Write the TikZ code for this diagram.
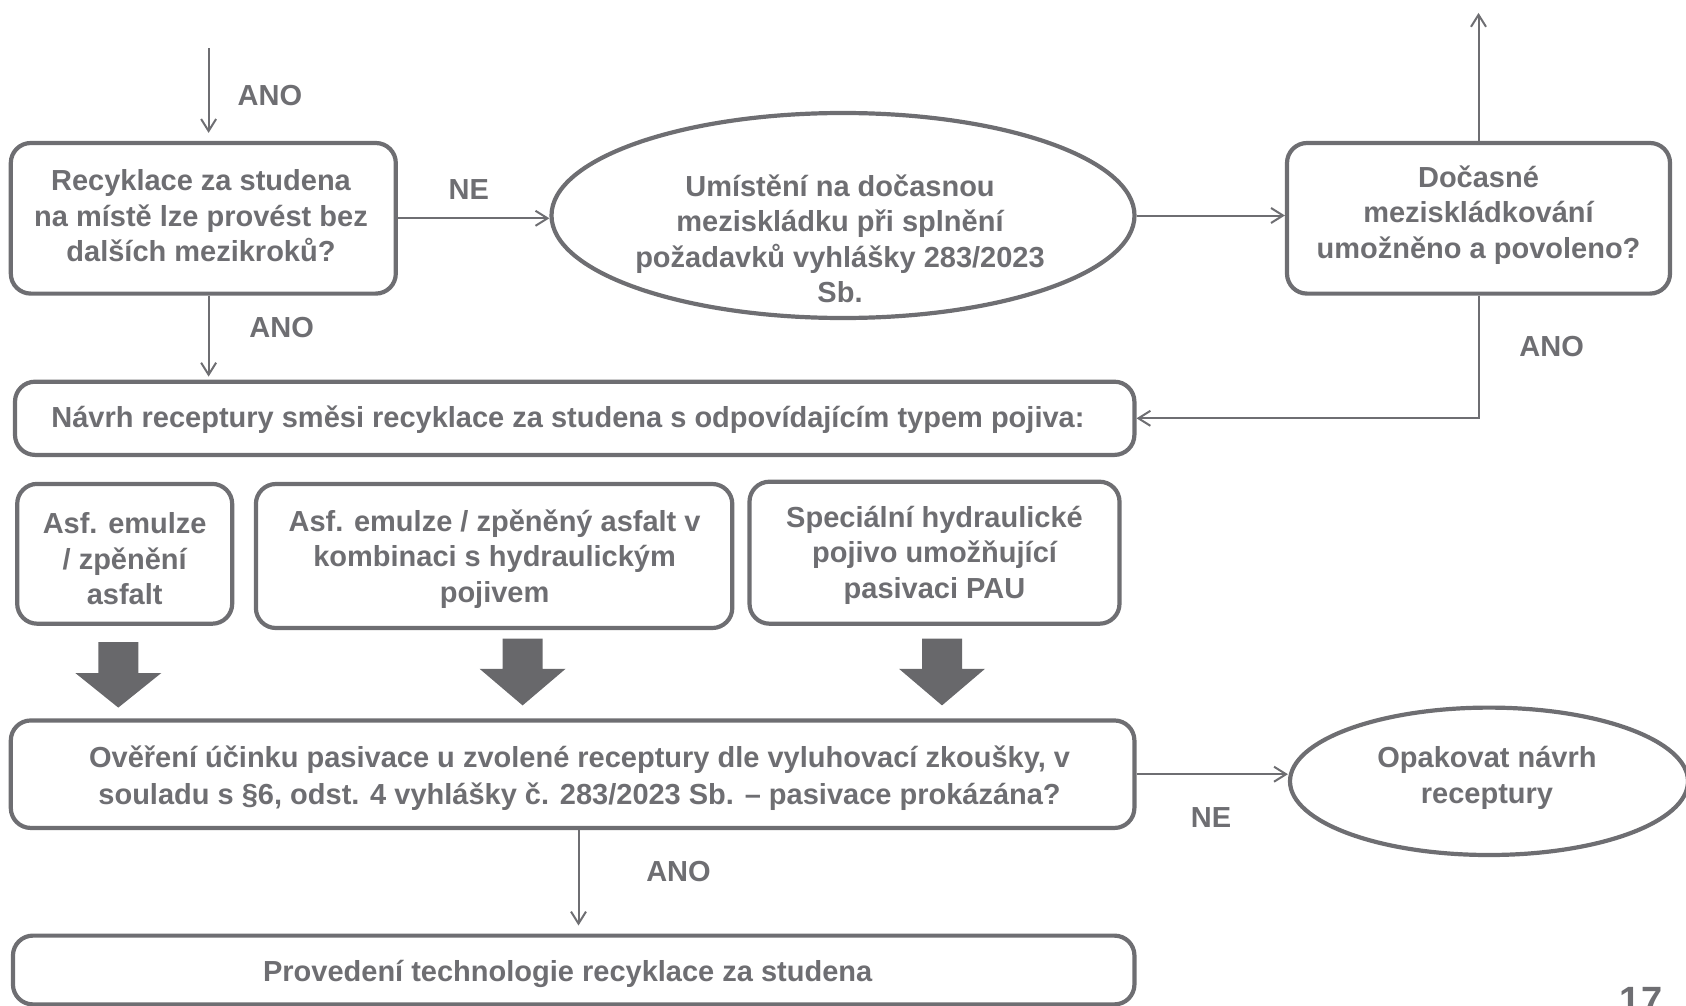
\documentclass[tikz,border=0pt]{standalone}
\usepackage{fontspec}
\setmainfont{Liberation Sans}
\usetikzlibrary{arrows.meta,shapes.geometric}
\definecolor{gr}{RGB}{110,110,114}
\definecolor{ga}{RGB}{104,104,107}
\newcommand{\mf}{\fontsize{14.5pt}{17.75pt}\selectfont\bfseries}
\begin{document}
\begin{tikzpicture}[x=0.5pt,y=-0.5pt,
 box/.style={draw=gr,line width=2.1pt,rounded corners=10pt,inner sep=0pt},
 oval/.style={draw=gr,line width=2.1pt,ellipse,inner sep=0pt},
 txt/.style={text=gr,font=\mf,align=center,inner sep=0pt},
 conn/.style={draw=gr,line width=1pt,-{Straight Barb[length=6pt,width=7.5pt]}}]
\useasboundingbox (0,0) rectangle (1686,1006);
\clip (0,0) rectangle (1686,1006);
% boxes
\node[box,minimum width=192.5pt,minimum height=75.3pt] (b1) at (203.3,218.3) {};
\node[txt] (t1) at (201,216) {Recyklace za studena\\na místě lze provést bez\\dalších mezikroků?};
\node[oval,minimum width=291.5pt,minimum height=102.5pt] (e1) at (843,215.5) {};
\node[txt] (te1) at (840,239) {Umístění na dočasnou\\meziskládku při splnění\\požadavků vyhlášky 283/2023\\Sb.};
\node[box,minimum width=191.5pt,minimum height=75.3pt] (b2) at (1478.5,218.3) {};
\node[txt] (t2) at (1478.5,215) {Dočasné\\meziskládkování\\umožněno a povoleno?};
\node[box,minimum width=559.7pt,minimum height=36.6pt] (b3) at (574.7,418.3) {};
\node[txt] (t3) at (568,419.4) {Návrh receptury směsi recyklace za studena s odpovídajícím typem pojiva:};
\node[box,minimum width=107.5pt,minimum height=69.9pt] (ba) at (124.7,553.8) {};
\node[txt] (ta) at (124.7,559) {Asf. emulze\\/ zpěnění\\asfalt};
\node[box,minimum width=238.2pt,minimum height=72pt] (bb) at (494.1,556) {};
\node[txt] (tb) at (494.6,559) {Asf. emulze / zpěněný asfalt v\\kombinaci s hydraulickým\\pojivem};
\node[box,minimum width=185pt,minimum height=71pt] (bc) at (934.5,552.7) {};
\node[txt] (tc) at (934.5,555) {Speciální hydraulické\\pojivo umožňující\\pasivaci PAU};
\node[box,minimum width=561.8pt,minimum height=53.75pt] (b4) at (572.6,774.2) {};
\node[txt] (t4) at (579.6,778) {Ověření účinku pasivace u zvolené receptury dle vyluhovací zkoušky, v\\[1pt]souladu s §6, odst. 4 vyhlášky č. 283/2023 Sb. – pasivace prokázána?};
\node[oval,minimum width=199pt,minimum height=73.7pt] (e2) at (1489,781.3) {};
\node[txt] (te2) at (1487,778) {Opakovat návrh\\receptury};
\node[box,minimum width=560.75pt,minimum height=34.4pt] (b5) at (573.7,970) {};
\node[txt] (t5) at (567.7,974) {Provedení technologie recyklace za studena};
% labels
\node[txt] (l1) at (269.9,95.7) {ANO};
\node[txt] (l2) at (281.7,328) {ANO};
\node[txt] (l3) at (1551.6,346.2) {ANO};
\node[txt] (l4) at (468.8,189.3) {NE};
\node[txt] (l5) at (1211,817.2) {NE};
\node[txt] (l6) at (678.5,872) {ANO};
\node[text=gr,font=\fontsize{19pt}{19pt}\selectfont\bfseries,anchor=base,inner sep=0pt] (pg) at (1641,1013) {17};
% connectors
\coordinate (top) at (208.6,48.4);
\coordinate (up) at (1478.5,12.9);
\coordinate (ax) at (578.5,0);
\draw[conn,shorten >=4pt] (top) -- (top |- b1.north);
\draw[conn] (b1.east) -- (b1.east -| e1.west);
\draw[conn] (e1.east) -- (e1.east -| b2.west);
\draw[conn] (b2.north) -- (up);
\draw[conn] (b2.south) |- (b3.east);
\draw[conn,shorten >=1.5pt] (b1.south -| top) -- (b3.north -| top);
\draw[conn] (b4.east) -- (b4.east -| e2.west);
\draw[conn,shorten >=4pt] (b4.south -| ax) -- (b5.north -| ax);
% block arrows
\fill[ga] (98.3,642) -- (138.3,642) -- (138.3,673) -- (161.3,673) -- (118.3,707.6) -- (75.3,673) -- (98.3,673) -- cycle;
\foreach \cx in {522.6,942}{
 \fill[ga] ({\cx-20},638.7) -- ({\cx+20},638.7) -- ({\cx+20},668.8) -- ({\cx+43},668.8) -- (\cx,705.4) -- ({\cx-43},668.8) -- ({\cx-20},668.8) -- cycle;
}
\end{tikzpicture}
\end{document}
